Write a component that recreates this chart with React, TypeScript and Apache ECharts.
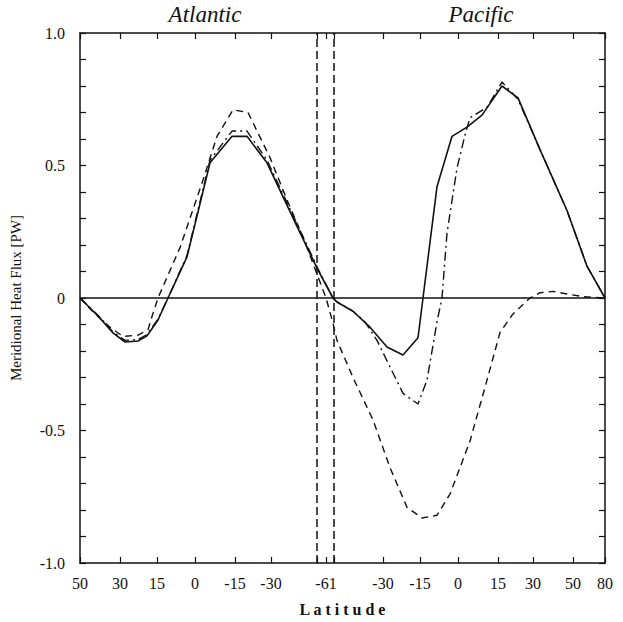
import React, { useEffect, useRef } from 'react';
import * as echarts from 'echarts';

// Section coordinate along the combined Atlantic (50N -> 61S) + Pacific (61S -> 80N) transect
const sectionTicks = [0, 40, 77, 115, 155, 191, 237, 246, 254, 303, 340, 378, 418, 453, 493, 525];
const labelPositions = [0, 40, 77, 115, 155, 191, 246, 303, 340, 378, 418, 453, 493, 525];
const latitudeLabels = ['50', '30', '15', '0', '-15', '-30', '-61', '-30', '-15', '0', '15', '30', '50', '80'];
const basinBoundaries = [237, 254];
const basinTitles = ['Atlantic', 'Pacific'];

const yTicks = [-1, -0.9, -0.8, -0.7, -0.6, -0.5, -0.4, -0.3, -0.2, -0.1, 0, 0.1, 0.2, 0.3, 0.4, 0.5, 0.6, 0.7, 0.8, 0.9, 1];
const yLabelValues = [-1, -0.5, 0, 0.5, 1];
const yLabelTexts = ['-1.0', '-0.5', '0', '0.5', '1.0'];

// Solid curve
const solidPos = [0, 18, 33, 45, 58, 67, 78, 88, 107, 130, 152, 167, 187, 217, 238, 253, 257, 273, 290, 307, 323, 338, 343, 357, 372, 387, 402, 422, 438, 460, 487, 507, 525];
const solidFlux = [0, -0.068, -0.132, -0.166, -0.162, -0.143, -0.083, 0, 0.155, 0.51, 0.61, 0.61, 0.51, 0.27, 0.105, 0, -0.015, -0.05, -0.11, -0.185, -0.215, -0.15, 0, 0.42, 0.61, 0.645, 0.69, 0.8, 0.755, 0.56, 0.33, 0.12, 0];

// Dash-dot curve
const dashDotPos = [0, 18, 33, 45, 58, 67, 78, 88, 107, 130, 152, 167, 187, 217, 238, 253, 257, 273, 285, 297, 310, 323, 338, 347, 357, 362, 367, 377, 385, 390, 407, 422, 433, 438, 460, 487, 507, 525];
const dashDotFlux = [0, -0.065, -0.128, -0.16, -0.157, -0.138, -0.08, 0, 0.16, 0.52, 0.63, 0.63, 0.52, 0.28, 0.11, 0, -0.015, -0.05, -0.09, -0.16, -0.26, -0.36, -0.4, -0.31, -0.09, 0, 0.245, 0.49, 0.615, 0.68, 0.72, 0.815, 0.77, 0.75, 0.56, 0.33, 0.12, 0];

// Dashed curve
const dashedPos = [0, 15, 30, 43, 58, 68, 72, 78, 100, 123, 137, 153, 168, 190, 207, 223, 238, 246, 253, 257, 273, 293, 310, 327, 342, 357, 370, 390, 407, 420, 433, 450, 460, 473, 487, 503, 525];
const dashedFlux = [0, -0.06, -0.11, -0.145, -0.14, -0.12, -0.07, 0, 0.19, 0.445, 0.61, 0.71, 0.7, 0.53, 0.37, 0.23, 0.08, 0, -0.095, -0.16, -0.3, -0.46, -0.64, -0.79, -0.83, -0.82, -0.74, -0.54, -0.31, -0.13, -0.06, 0, 0.02, 0.025, 0.015, 0.005, 0];

const zip = (xs: number[], ys: number[]) => xs.map((x, i) => [x, ys[i]]);

const FONT = 'Liberation Serif, Times New Roman, serif';

export default function App() {
  const ref = useRef<HTMLDivElement>(null);
  useEffect(() => {
    if (!ref.current) return;
    const chart = echarts.init(ref.current, undefined, { renderer: 'svg' });
    const black = '#111';
    const xAxisBase = {
      type: 'value',
      min: 0,
      max: 525,
      splitLine: { show: false },
      axisLine: { show: true, onZero: false, lineStyle: { color: black, width: 1.5 } },
      axisTick: { show: true, inside: true, length: 6, customValues: sectionTicks, lineStyle: { color: black, width: 1.2 } },
    };
    const yAxisBase = {
      type: 'value',
      min: -1,
      max: 1,
      interval: 0.1,
      splitLine: { show: false },
      axisLine: { show: true, onZero: false, lineStyle: { color: black, width: 1.5 } },
      axisTick: { show: true, inside: true, length: 6, customValues: yTicks, lineStyle: { color: black, width: 1.2 } },
    };
    const option = {
      animation: false,
      backgroundColor: '#fff',
      grid: { left: 80, right: 18, top: 33, bottom: 59, containLabel: false },
      xAxis: [
        {
          ...xAxisBase,
          position: 'bottom',
          name: 'L a t i t u d e',
          nameLocation: 'middle',
          nameGap: 38,
          nameTextStyle: { fontFamily: FONT, fontSize: 16, fontWeight: 'bold', color: black },
          axisLabel: {
            show: true,
            customValues: labelPositions,
            margin: 12,
            fontFamily: FONT,
            fontSize: 16,
            color: black,
            formatter: (v: number) => {
              const i = labelPositions.indexOf(v);
              return i >= 0 ? latitudeLabels[i] : '';
            },
          },
        },
        {
          ...xAxisBase,
          position: 'top',
          axisLabel: { show: true, customValues: labelPositions, formatter: () => '' },
        },
      ],
      yAxis: [
        {
          ...yAxisBase,
          position: 'left',
          name: 'Meridional Heat Flux [PW]',
          nameLocation: 'middle',
          nameGap: 57,
          nameTextStyle: { fontFamily: FONT, fontSize: 15, color: black },
          axisLabel: {
            show: true,
            customValues: yLabelValues,
            margin: 15,
            fontFamily: FONT,
            fontSize: 16,
            color: black,
            formatter: (v: number) => {
              const i = yLabelValues.findIndex((u) => Math.abs(u - v) < 1e-9);
              return i >= 0 ? yLabelTexts[i] : '';
            },
          },
        },
        {
          ...yAxisBase,
          position: 'right',
          axisLabel: { show: true, customValues: yLabelValues, formatter: () => '' },
        },
      ],
      graphic: [
        { type: 'text', x: 205, y: 3, style: { text: basinTitles[0], align: 'center', fontFamily: FONT, fontSize: 23, fontStyle: 'italic', fill: black } },
        { type: 'text', x: 481, y: 3, style: { text: basinTitles[1], align: 'center', fontFamily: FONT, fontSize: 23, fontStyle: 'italic', fill: black } },
      ],
      series: [
        {
          type: 'line',
          xAxisIndex: 0,
          yAxisIndex: 0,
          data: zip(solidPos, solidFlux),
          showSymbol: false,
          lineStyle: { color: black, width: 1.6, type: 'solid' },
          markLine: {
            silent: true,
            symbol: ['none', 'none'],
            label: { show: false },
            lineStyle: { color: black, width: 1.5, type: 'solid' },
            data: [{ yAxis: 0 }],
          },
        },
        {
          type: 'line',
          xAxisIndex: 0,
          yAxisIndex: 0,
          data: zip(dashDotPos, dashDotFlux),
          showSymbol: false,
          lineStyle: { color: black, width: 1.4, type: [9, 4, 2, 4] },
        },
        {
          type: 'line',
          xAxisIndex: 0,
          yAxisIndex: 0,
          data: zip(dashedPos, dashedFlux),
          showSymbol: false,
          lineStyle: { color: black, width: 1.4, type: [7, 5] },
          markLine: {
            silent: true,
            symbol: ['none', 'none'],
            label: { show: false },
            lineStyle: { color: black, width: 1.5, type: [8, 4] },
            data: basinBoundaries.map((b) => ({ xAxis: b })),
          },
        },
      ],
    };
    chart.setOption(option as any);
    return () => chart.dispose();
  }, []);
  return <div ref={ref} style={{ position: 'absolute', left: 0, top: 0, width: 623, height: 622 }} />;
}
